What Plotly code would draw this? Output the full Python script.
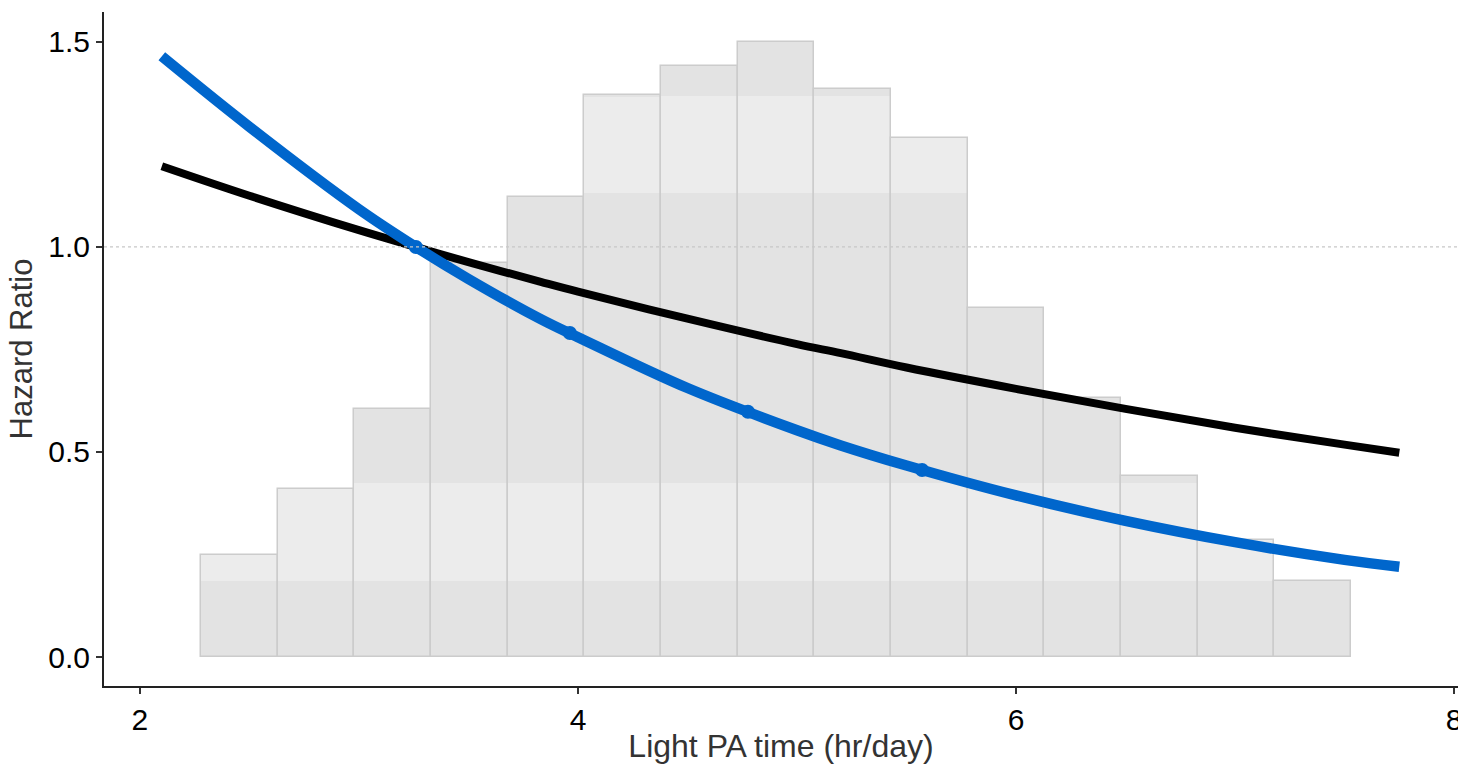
import plotly.graph_objects as go

# Histogram of light PA time (bin left edges, width, heights in HR-axis units)
bin_left = [2.279 + 0.35 * i for i in range(15)]
bin_width = 0.35
bin_heights = [0.249, 0.410, 0.605, 0.961, 1.122, 1.371, 1.441, 1.500,
               1.385, 1.266, 0.851, 0.632, 0.441, 0.285, 0.185]

# Shading bands visible in the bars (y-boundaries)
band_edges = [0.0, 0.185, 0.424, 1.132, 1.368, 2.0]
band_colors = ["#e3e3e3", "#ececec", "#e3e3e3", "#ececec", "#e3e3e3"]

# Curves
curve_x = [2.1, 2.5, 3.0, 3.26, 3.5, 3.83, 4.0, 4.5, 5.0, 5.2, 5.5, 6.0, 6.5, 7.0, 7.5, 7.75]
black_hr = [1.197, 1.125, 1.041, 1.0, 0.963, 0.915, 0.891, 0.825, 0.763, 0.741,
            0.706, 0.654, 0.605, 0.559, 0.518, 0.498]
blue_hr = [1.465, 1.293, 1.092, 1.0, 0.922, 0.824, 0.780, 0.656, 0.553, 0.516,
           0.467, 0.394, 0.332, 0.280, 0.237, 0.220]

# Points on the blue curve
pt_x = [3.26, 3.963, 4.776, 5.571]
pt_y = [1.0, 0.790, 0.598, 0.456]

x_range = [1.836, 8.018]
y_range = [-0.0707, 1.573]

centers = [l + bin_width / 2 for l in bin_left]

fig = go.Figure()

for i in range(len(band_colors)):
    lo, hi = band_edges[i], band_edges[i + 1]
    seg = [max(0.0, min(h, hi) - lo) for h in bin_heights]
    fig.add_trace(go.Bar(
        x=centers, y=seg, base=[lo] * len(seg), width=bin_width,
        marker=dict(color=band_colors[i], line=dict(width=0)),
        hoverinfo="skip", showlegend=False,
    ))

fig.add_trace(go.Bar(
    x=centers, y=bin_heights, base=[0] * len(bin_heights), width=bin_width,
    marker=dict(color="rgba(0,0,0,0)", line=dict(color="#cccccc", width=1.5)),
    showlegend=False,
))

fig.add_shape(type="line", xref="x", yref="y", x0=x_range[0], x1=x_range[1],
              y0=1, y1=1, line=dict(color="#c8c8c8", width=1.2, dash="dot"),
              layer="above")

fig.add_trace(go.Scatter(
    x=curve_x, y=black_hr, mode="lines",
    line=dict(color="black", width=8, shape="spline"), showlegend=False,
))
fig.add_trace(go.Scatter(
    x=curve_x, y=blue_hr, mode="lines",
    line=dict(color="#0066cc", width=10.5, shape="spline"), showlegend=False,
))
fig.add_trace(go.Scatter(
    x=pt_x, y=pt_y, mode="markers",
    marker=dict(color="#0066cc", size=14), showlegend=False,
))

font_family = "Arial, Liberation Sans, sans-serif"

fig.update_layout(
    width=1458, height=764,
    margin=dict(l=104, r=0, t=12, b=78),
    plot_bgcolor="white", paper_bgcolor="white",
    barmode="overlay", bargap=0,
    font=dict(family=font_family, color="black"),
    xaxis=dict(
        range=x_range, tickvals=[2, 4, 6, 8], ticktext=["2", "4", "6", "8"],
        showgrid=False, zeroline=False, automargin=False,
        showline=True, linecolor="#222222", linewidth=2,
        ticks="outside", ticklen=6, tickwidth=1.5, tickcolor="#333333",
        tickfont=dict(size=30, color="black"), ticklabeloverflow="allow",
        title=dict(text="Light PA time (hr/day)", font=dict(size=32, color="#333333"), standoff=2),
    ),
    yaxis=dict(
        range=y_range, tickvals=[0, 0.5, 1.0, 1.5], ticktext=["0.0", "0.5", "1.0", "1.5"],
        showgrid=False, zeroline=False, automargin=False,
        showline=True, linecolor="#222222", linewidth=2,
        ticks="outside", ticklen=6, tickwidth=1.5, tickcolor="#333333",
        tickfont=dict(size=30, color="black"),
        title=dict(text="Hazard Ratio", font=dict(size=31, color="#333333"), standoff=6),
    ),
)

fig.write_html("out.html")
